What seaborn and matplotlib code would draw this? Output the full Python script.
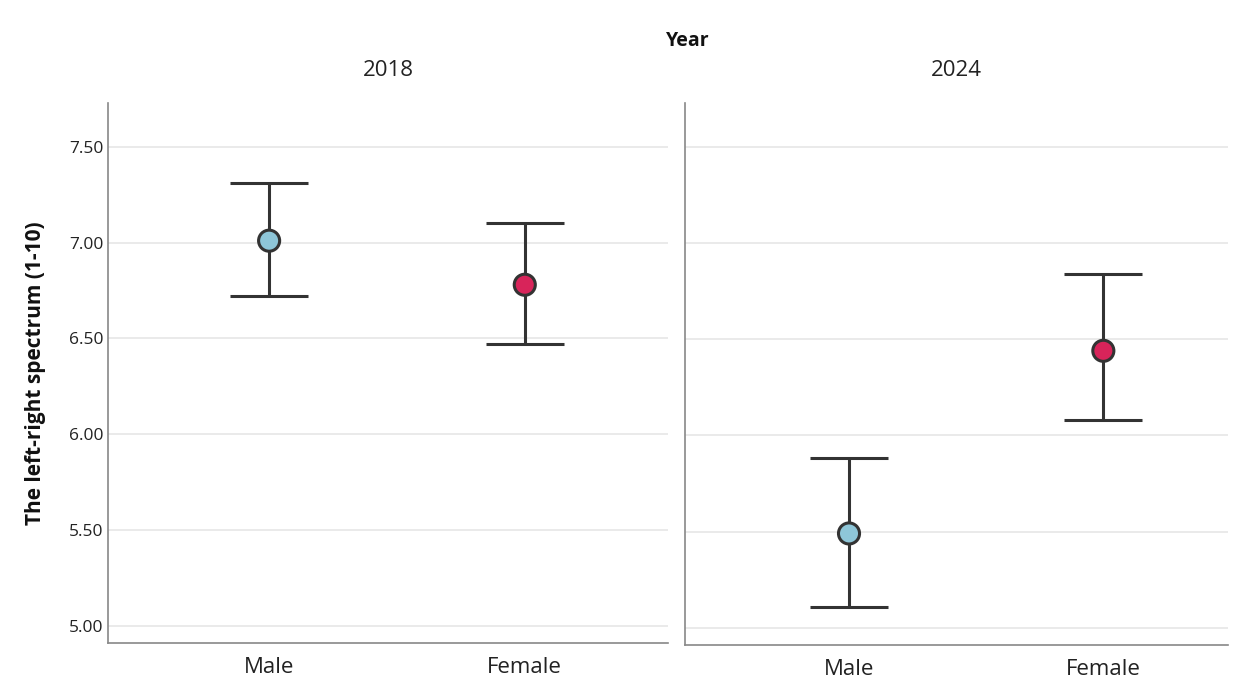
import matplotlib
matplotlib.use("Agg")
import matplotlib.pyplot as plt
import seaborn as sns
import pandas as pd

years = ["2018", "2024"]
genders = ["Male", "Female"]
means = {"2018": [7.01, 6.78], "2024": [5.49, 6.44]}
upper = {"2018": [7.31, 7.10], "2024": [5.88, 6.84]}
lower = {"2018": [6.72, 6.47], "2024": [5.11, 6.08]}
yticks = [5.00, 5.50, 6.00, 6.50, 7.00, 7.50]
palette = {"Male": "#8ec6d8", "Female": "#d8245a"}

sns.set_theme(style="white")
plt.rcParams["font.family"] = ["Open Sans", "DejaVu Sans"]

fig = plt.figure(figsize=(12.52, 6.85), dpi=100)
ax1 = fig.add_axes([0.0863, 0.0613, 0.4472, 0.7887])
ax2 = fig.add_axes([0.5471, 0.0584, 0.4337, 0.7916], sharey=ax1)
xlims = {"2018": (-0.63, 1.56), "2024": (-0.645, 1.49)}

for ax, yr in zip([ax1, ax2], years):
    df = pd.DataFrame({"Gender": genders, "Mean": means[yr],
                       "Lo": lower[yr], "Hi": upper[yr]})
    for y in yticks:
        ax.axhline(y, color="#e6e6e6", lw=1.2, zorder=0)
    yerr = [df["Mean"] - df["Lo"], df["Hi"] - df["Mean"]]
    ax.errorbar(df["Gender"], df["Mean"], yerr=yerr, fmt="none",
                ecolor="#333333", elinewidth=2.2, capsize=28, capthick=2.2, zorder=2)
    sns.scatterplot(data=df, x="Gender", y="Mean", hue="Gender", palette=palette,
                    s=230, edgecolor="#333333", linewidth=2.2, legend=False,
                    ax=ax, zorder=3)
    ax.set_xlim(*xlims[yr])
    ax.set_ylim(4.91, 7.73)
    ax.set_xlabel("")
    ax.set_ylabel("")
    ax.set_title(yr, fontsize=16, color="#222222", pad=19)
    for s in ["top", "right"]:
        ax.spines[s].set_visible(False)
    for s in ["left", "bottom"]:
        ax.spines[s].set_color("#888888")
        ax.spines[s].set_linewidth(1.2)
    ax.tick_params(axis="x", labelsize=16, colors="#222222", length=0, pad=10)
    ax.tick_params(axis="y", length=0)

ax1.set_yticks(yticks)
ax1.set_yticklabels([f"{v:.2f}" for v in yticks], fontsize=12.5, color="#222222")
ax2.tick_params(axis="y", labelleft=False)
ax1.set_ylabel("The left-right spectrum (1-10)", fontsize=15, fontweight="bold",
               color="#111111", labelpad=16)
fig.text(0.549, 0.940, "Year", ha="center", va="center", fontsize=14,
         fontweight="bold", color="#111111")

fig.savefig("out.png", dpi=100)
